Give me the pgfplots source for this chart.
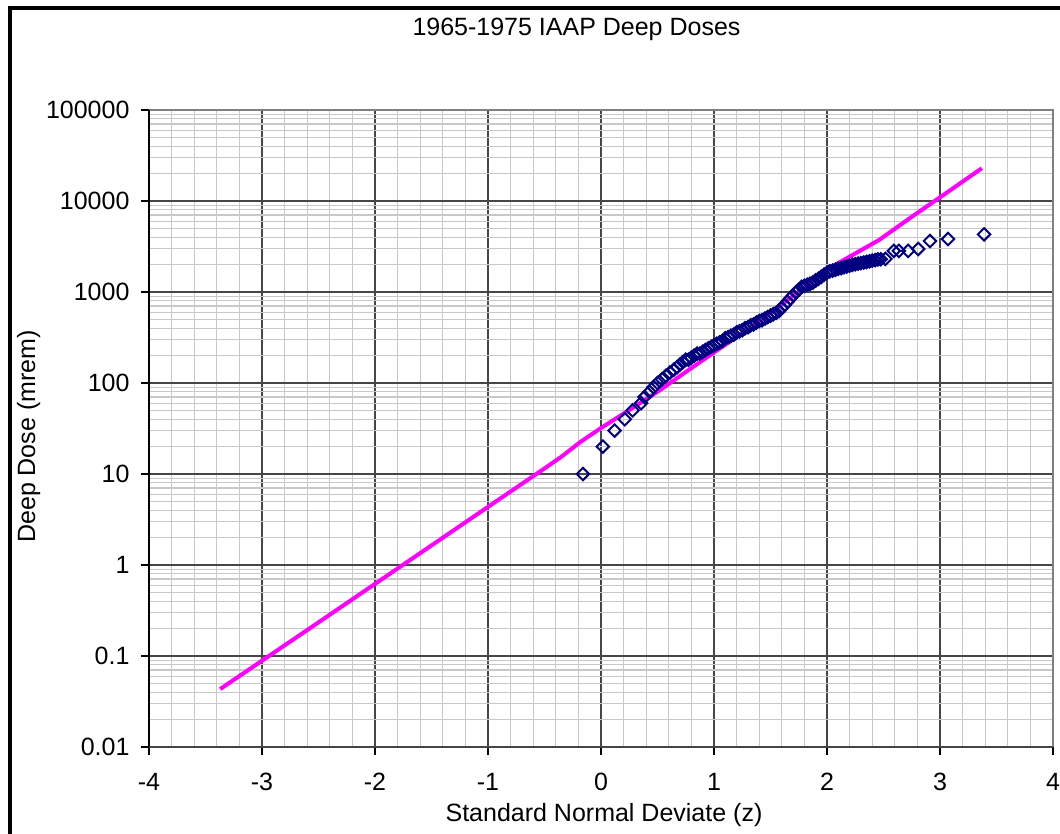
\documentclass[border=0pt]{standalone}
\usepackage{fontspec}
\setmainfont{Liberation Sans}
\usepackage{pgfplots}
\pgfplotsset{compat=1.18}
\definecolor{navy}{HTML}{000080}
\definecolor{majgrid}{HTML}{464646}
\definecolor{mingrid}{HTML}{C8C8C8}
\definecolor{plotframe}{HTML}{808080}
\definecolor{fitline}{HTML}{FF00FF}

\begin{document}
\begin{tikzpicture}[font=\fontsize{25}{30}\selectfont]
\begin{semilogyaxis}[
    at={(149pt,86pt)}, anchor=south west,
    scale only axis, width=904pt, height=637pt,
    xmin=-4, xmax=4, ymin=0.01, ymax=100000,
    xtick={-4,-3,-2,-1,0,1,2,3,4},
    xticklabels={-4,-3,-2,-1,0,1,2,3,4},
    ytick={0.01,0.1,1,10,100,1000,10000,100000},
    yticklabels={0.01,0.1,1,10,100,1000,10000,100000},
    xticklabel style={yshift=-15pt},
    yticklabel style={xshift=-8pt},
    minor x tick num=4,
    minor ytick={0.02,0.03,0.04,0.05,0.06,0.07,0.08,0.09,
                 0.2,0.3,0.4,0.5,0.6,0.7,0.8,0.9,
                 2,3,4,5,6,7,8,9,
                 20,30,40,50,60,70,80,90,
                 200,300,400,500,600,700,800,900,
                 2000,3000,4000,5000,6000,7000,8000,9000,
                 20000,30000,40000,50000,60000,70000,80000,90000},
    grid=both,
    major grid style={majgrid, line width=1.3pt},
    minor grid style={mingrid, line width=1.3pt},
    tick pos=left, tick align=outside,
    major tick length=8pt, minor tick length=0pt,
    tick style={black, line width=1.3pt},
    axis line style={draw=none},
    clip=false,
]
% fitted lognormal line
\addplot[fitline, line width=4pt, no marks] coordinates {
    (-3.37,0.0433) (-2.5,0.234) (-2.0,0.62) (-1.5,1.64) (-1.0,4.35)
    (-0.5,11.5) (-0.35,15.5) (-0.18,22.6) (0.0,32) (0.2,46) (0.5,80)
    (0.83,155) (1.2,320) (1.5,590) (1.8,1120) (2.06,1950) (2.46,3720)
    (2.75,6700) (3.05,12100) (3.37,22900)
};
% observed doses
\addplot[only marks, mark=square, mark size=4.4pt,
    mark options={rotate=45, draw=navy, fill=none, line width=2pt}] coordinates {
    (-0.16,10) (0.016,20) (0.12,30) (0.21,40) (0.28,50) (0.355,60) (0.385,70)
    (0.43,80) (0.465,90) (0.50,100) (0.54,110) (0.575,120) (0.61,130)
    (0.645,140) (0.675,150) (0.70,160)
    (0.725,170) (0.75,180) (0.775,180) (0.80,190) (0.825,200) (0.85,210)
    (0.875,210) (0.90,220) (0.925,230) (0.95,240) (0.975,250) (1.00,260)
    (1.025,270) (1.05,280) (1.075,290) (1.10,310) (1.125,320) (1.15,330)
    (1.175,340) (1.20,360) (1.225,370) (1.25,380) (1.275,400) (1.30,410)
    (1.325,430) (1.35,440) (1.375,460) (1.40,480) (1.425,490) (1.45,510)
    (1.475,530) (1.50,550) (1.525,570) (1.55,590)
    (1.575,620) (1.60,670) (1.625,720) (1.65,780) (1.675,850) (1.70,920)
    (1.725,990) (1.75,1060) (1.775,1140)
    (1.80,1170) (1.825,1200) (1.85,1230)
    (1.875,1270) (1.90,1340) (1.925,1400) (1.95,1470) (1.975,1550) (2.00,1630)
    (2.025,1690) (2.05,1720) (2.075,1760) (2.10,1800) (2.125,1830) (2.15,1870)
    (2.175,1910) (2.20,1950)
    (2.225,1990) (2.25,2020) (2.275,2050) (2.30,2080) (2.325,2110) (2.35,2140)
    (2.375,2170) (2.40,2210) (2.425,2240) (2.45,2280) (2.475,2290)
    (2.517,2310) (2.591,2830) (2.636,2830) (2.718,2830) (2.807,2970)
    (2.911,3630) (3.071,3820) (3.39,4300)
};
% plot area border
\draw[plotframe, line width=2pt] (rel axis cs:0,1) -- (rel axis cs:1,1) -- (rel axis cs:1,0);
\draw[majgrid, line width=2pt] (rel axis cs:0,0) -- (rel axis cs:1,0);
\draw[black, line width=2pt] (rel axis cs:0,0) -- (rel axis cs:0,1);
\end{semilogyaxis}

\node[anchor=base] at (576.5pt,797pt) {1965-1975 IAAP Deep Doses};
\node[anchor=base] at (604pt,12pt) {Standard Normal Deviate (z)};
\node[anchor=base, rotate=90] at (35pt,396.5pt) {Deep Dose (mrem)};

% chart frame
\draw[line width=4pt, line cap=rect] (9.5pt,-10pt) -- (9.5pt,825pt) -- (1070pt,825pt);

\pgfresetboundingbox
\path[use as bounding box] (0,0) rectangle (1060pt,833pt);
\end{tikzpicture}
\end{document}
